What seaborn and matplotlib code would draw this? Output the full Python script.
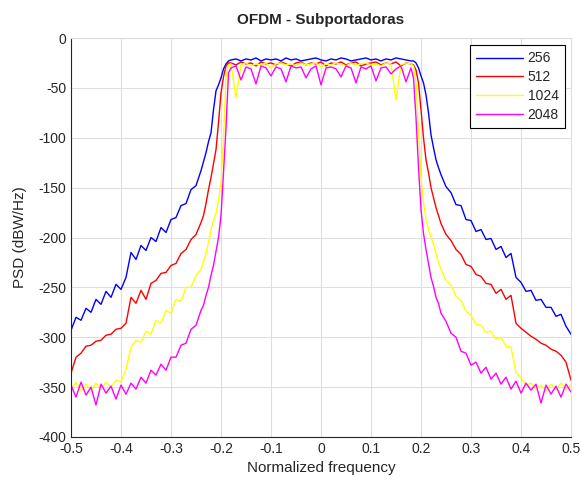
import pandas as pd
import matplotlib
matplotlib.use('Agg')
from matplotlib import pyplot as plt
import seaborn as sns

# normalized frequency grid (denser on the band edges)
FREQ = [-0.50, -0.49, -0.48, -0.47, -0.46, -0.45, -0.44, -0.43, -0.42, -0.41,
        -0.40, -0.39, -0.38, -0.37, -0.36, -0.35, -0.34, -0.33, -0.32, -0.31,
        -0.30, -0.29, -0.28, -0.27, -0.26, -0.25, -0.24,
        -0.235, -0.23, -0.225, -0.22, -0.215, -0.21, -0.205, -0.20, -0.195, -0.19, -0.185,
        -0.18, -0.17, -0.16, -0.15, -0.14, -0.13, -0.12, -0.11, -0.10, -0.09,
        -0.08, -0.07, -0.06, -0.05, -0.04, -0.03, -0.02, -0.01, 0.00, 0.01,
        0.02, 0.03, 0.04, 0.05, 0.06, 0.07, 0.08, 0.09, 0.10, 0.11,
        0.12, 0.13, 0.14, 0.15, 0.16, 0.17, 0.18,
        0.185, 0.19, 0.195, 0.20, 0.205, 0.21, 0.215, 0.22, 0.225, 0.23, 0.235,
        0.24, 0.25, 0.26, 0.27, 0.28, 0.29, 0.30, 0.31, 0.32, 0.33,
        0.34, 0.35, 0.36, 0.37, 0.38, 0.39, 0.40, 0.41, 0.42, 0.43,
        0.44, 0.45, 0.46, 0.47, 0.48, 0.49, 0.50]

PSD_256 = [-293, -280, -283, -271, -275, -262, -267, -254, -260, -247,
           -252, -240, -215, -222, -208, -213, -200, -204, -190, -195,
           -182, -180, -168, -166, -152, -148, -133,
           -124, -115, -104, -95, -72, -53, -47, -40, -31, -26, -23,
           -22, -21, -23, -21, -22, -20, -23, -21, -22, -21,
           -23, -20, -22, -21, -23, -22, -21, -20, -22, -23,
           -21, -22, -20, -21, -23, -22, -21, -20, -22, -21,
           -23, -21, -22, -20, -21, -22, -23,
           -23, -25, -30, -38, -45, -57, -75, -97, -110, -122, -130,
           -137, -149, -155, -167, -168, -182, -183, -194, -192, -202,
           -201, -212, -209, -220, -216, -240, -245, -254, -253, -263,
           -262, -270, -270, -279, -277, -289, -297]

PSD_512 = [-336, -320, -316, -309, -308, -304, -303, -298, -297, -292,
           -291, -286, -260, -266, -253, -262, -246, -243, -236, -235,
           -228, -226, -216, -212, -202, -197, -185,
           -178, -166, -152, -140, -126, -112, -85, -55, -39, -28, -25,
           -25, -27, -24, -26, -25, -28, -24, -26, -25, -27,
           -24, -26, -28, -25, -24, -27, -25, -26, -24, -28,
           -25, -26, -24, -27, -25, -24, -28, -26, -25, -24,
           -27, -25, -26, -24, -28, -25, -26,
           -27, -32, -45, -72, -100, -122, -135, -150, -160, -170, -178,
           -186, -197, -203, -212, -217, -227, -229, -237, -239, -246,
           -247, -256, -252, -262, -258, -286, -291, -295, -299, -302,
           -306, -308, -312, -314, -318, -325, -343]

PSD_1024 = [-352, -345, -354, -347, -353, -346, -352, -345, -350, -343,
            -345, -332, -310, -303, -305, -294, -297, -283, -286, -273,
            -276, -262, -264, -250, -250, -238, -232,
            -224, -216, -205, -192, -183, -176, -163, -145, -100, -40, -27,
            -26, -60, -27, -25, -28, -26, -27, -25, -30, -26,
            -25, -27, -26, -28, -25, -27, -26, -25, -29, -26,
            -27, -25, -26, -28, -25, -27, -26, -25, -27, -26,
            -28, -25, -26, -62, -27, -25, -26,
            -28, -45, -95, -140, -165, -182, -192, -199, -207, -216, -225,
            -232, -243, -248, -259, -263, -274, -278, -287, -288, -295,
            -294, -302, -300, -309, -310, -335, -341, -348, -346, -352,
            -348, -354, -347, -353, -346, -352, -348]

PSD_2048 = [-348, -360, -345, -358, -350, -368, -347, -356, -349, -362,
            -348, -357, -346, -352, -340, -346, -333, -338, -327, -333,
            -320, -320, -308, -306, -292, -288, -273,
            -268, -258, -250, -238, -228, -214, -200, -178, -135, -90, -35,
            -30, -28, -42, -29, -31, -46, -28, -30, -38, -29,
            -31, -44, -28, -30, -29, -40, -31, -28, -47, -30,
            -29, -31, -39, -28, -30, -45, -29, -31, -28, -43,
            -30, -29, -36, -31, -28, -44, -30,
            -40, -80, -130, -172, -196, -212, -226, -240, -249, -260, -266,
            -276, -284, -296, -300, -314, -316, -328, -325, -336, -330,
            -342, -336, -347, -340, -352, -344, -356, -346, -353, -347,
            -366, -348, -357, -349, -360, -347, -355]

LABELS = ['256', '512', '1024', '2048']
COLORS = ['#0000ff', '#ff0000', '#ffff00', '#ff00ff']
XTICKS = [-0.5, -0.4, -0.3, -0.2, -0.1, 0, 0.1, 0.2, 0.3, 0.4, 0.5]
XTICKLABELS = ['-0.5', '-0.4', '-0.3', '-0.2', '-0.1', '0', '0.1', '0.2', '0.3', '0.4', '0.5']
YTICKS = [0, -50, -100, -150, -200, -250, -300, -350, -400]


def main():
    frames = []
    for lab, vals in zip(LABELS, [PSD_256, PSD_512, PSD_1024, PSD_2048]):
        frames.append(pd.DataFrame({'freq': FREQ, 'psd': vals, 'N': lab}))
    df = pd.concat(frames, ignore_index=True)

    sns.set_style('white')
    plt.rcParams['font.family'] = ['Liberation Sans', 'DejaVu Sans']

    fig = plt.figure(figsize=(5.82, 4.82), dpi=100)
    ax = fig.add_axes([71 / 582, 45 / 482, 500 / 582, 399 / 482])
    sns.lineplot(data=df, x='freq', y='psd', hue='N', hue_order=LABELS,
                 palette=COLORS, estimator=None, sort=False, linewidth=1.0, ax=ax)

    ax.set_xlim(-0.5, 0.5)
    ax.set_ylim(-400, 0)
    ax.set_xticks(XTICKS)
    ax.set_xticklabels(XTICKLABELS)
    ax.set_yticks(YTICKS)
    ax.set_yticklabels([str(v) for v in YTICKS])
    ax.grid(True, color='#dedede', linewidth=0.8)
    ax.set_axisbelow(True)
    ax.tick_params(direction='in', length=4, labelsize=10, colors='#262626')
    for s in ['left', 'bottom']:
        ax.spines[s].set_color('#262626')
        ax.spines[s].set_linewidth(0.8)
    for s in ['top', 'right']:
        ax.spines[s].set_color('#dedede')
        ax.spines[s].set_linewidth(0.8)

    ax.set_title('OFDM - Subportadoras', fontsize=11, fontweight='bold', pad=10)
    ax.set_xlabel('Normalized frequency', fontsize=11, color='#262626')
    ax.set_ylabel('PSD (dBW/Hz)', fontsize=11, color='#262626', labelpad=8)

    handles, labels = ax.get_legend_handles_labels()
    leg = ax.legend(handles, labels, loc='upper right', bbox_to_anchor=(0.988, 0.982),
                    fontsize=10, frameon=True, fancybox=False, framealpha=1,
                    edgecolor='black', borderaxespad=0, handlelength=3.4,
                    handletextpad=0.3, labelspacing=0.35, borderpad=0.45)
    leg.get_frame().set_linewidth(0.8)

    plt.savefig('out.png', dpi=100)


if __name__ == '__main__':
    main()
